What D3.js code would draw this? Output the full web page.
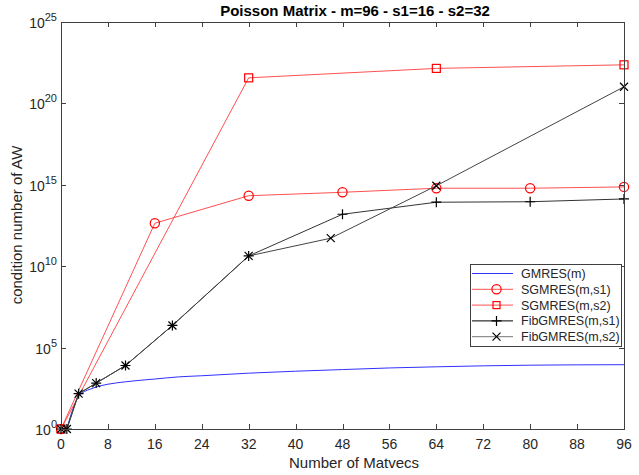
<!DOCTYPE html>
<html>
<head>
<meta charset="utf-8">
<script src="https://cdn.jsdelivr.net/npm/d3@7"></script>
<style>
  body { margin: 0; background: #fff; }
  svg { display: block; font-family: "Liberation Sans", Arial, Helvetica, sans-serif; }
</style>
</head>
<body>
<svg id="chart" width="639" height="475"></svg>
<script>
// ---- data (log10 of condition number) ----
const titleText = "Poisson Matrix - m=96 - s1=16 - s2=32";
const xTicks = [0, 8, 16, 24, 32, 40, 48, 56, 64, 72, 80, 88, 96];
const yTickExps = [0, 5, 10, 15, 20, 25];

const gmresX = [1, 2, 3, 4, 5, 6, 8, 11, 16, 20, 24, 32, 40, 48, 56, 64, 72, 80, 88, 96];
const gmresY = [0, 1.2, 2.0, 2.3, 2.45, 2.58, 2.75, 2.9, 3.07, 3.2, 3.27, 3.43, 3.55, 3.65, 3.75, 3.82, 3.88, 3.92, 3.94, 3.95];

const sg1X = [0, 16, 32, 48, 64, 80, 96];
const sg1Y = [0, 12.64, 14.33, 14.54, 14.79, 14.79, 14.87];

const sg2X = [0, 32, 64, 96];
const sg2Y = [0, 21.57, 22.15, 22.37];

const fib1X = [0, 1, 3, 6, 11, 19, 32, 48, 64, 80, 96];
const fib1Y = [0, 0, 2.17, 2.82, 3.9, 6.36, 10.63, 13.19, 13.93, 13.96, 14.13];

const fib2X = [0, 1, 3, 6, 11, 19, 32, 46, 64, 96];
const fib2Y = [0, 0, 2.17, 2.82, 3.9, 6.36, 10.63, 11.72, 14.94, 21.02];

const seriesNames = ["GMRES(m)", "SGMRES(m,s1)", "SGMRES(m,s2)", "FibGMRES(m,s1)", "FibGMRES(m,s2)"];

// ---- layout ----
const svg = d3.select("#chart");
const pL = 61, pR = 624, pT = 22, pB = 429;
const x = d3.scaleLinear().domain([0, 96]).range([pL, pR]);
const y = d3.scaleLinear().domain([0, 25]).range([pB, pT]);
const axisColor = "#404040";
const textColor = "#262626";

// ticks (inside, all four sides)
const tl = 5;
const g = svg.append("g").attr("stroke", axisColor).attr("stroke-width", 1);
xTicks.forEach(t => {
  const px = Math.round(x(t)) + 0.5;
  g.append("line").attr("x1", px).attr("x2", px).attr("y1", pB).attr("y2", pB - tl);
  g.append("line").attr("x1", px).attr("x2", px).attr("y1", pT).attr("y2", pT + tl);
});
yTickExps.forEach(t => {
  const py = Math.round(y(t)) + 0.5;
  g.append("line").attr("x1", pL).attr("x2", pL + tl).attr("y1", py).attr("y2", py);
  g.append("line").attr("x1", pR).attr("x2", pR - tl).attr("y1", py).attr("y2", py);
});

// tick labels
svg.append("g").selectAll("text").data(xTicks).join("text")
  .attr("x", d => x(d)).attr("y", 448.5)
  .attr("text-anchor", "middle").attr("font-size", 14).attr("fill", textColor)
  .text(d => d);

const yl = svg.append("g").selectAll("text").data(yTickExps).join("text")
  .attr("x", 57).attr("y", d => y(d) + 6)
  .attr("text-anchor", "end").attr("font-size", 14).attr("fill", textColor);
yl.append("tspan").text("10");
yl.append("tspan").attr("dy", -7).attr("font-size", 11).text(d => d);

// line generators
const zip = (a, b) => a.map((v, i) => [v, b[i]]);
const lineLin = d3.line().x(d => x(d[0])).y(d => y(d[1]));
const lineSmooth = d3.line().x(d => x(d[0])).y(d => y(d[1])).curve(d3.curveMonotoneX);

const plot = svg.append("g");
plot.append("path").datum(zip(gmresX, gmresY))
  .attr("d", lineSmooth).attr("fill", "none").attr("stroke", "#3030ff").attr("stroke-width", 1);

const redLine = "#ff5050";
const blackLine = "#333";
plot.append("path").datum(zip(sg1X, sg1Y)).attr("d", lineLin)
  .attr("fill", "none").attr("stroke", redLine).attr("stroke-width", 1);
plot.append("path").datum(zip(sg2X, sg2Y)).attr("d", lineLin)
  .attr("fill", "none").attr("stroke", redLine).attr("stroke-width", 1);
plot.append("path").datum(zip(fib1X, fib1Y)).attr("d", lineLin)
  .attr("fill", "none").attr("stroke", blackLine).attr("stroke-width", 1);
plot.append("path").datum(zip(fib2X, fib2Y)).attr("d", lineLin)
  .attr("fill", "none").attr("stroke", "#444").attr("stroke-width", 1);

// markers
function circle(gg, cx, cy) {
  gg.append("circle").attr("cx", cx).attr("cy", cy).attr("r", 4.6)
    .attr("fill", "none").attr("stroke", "#ff0000").attr("stroke-width", 1.2);
}
function square(gg, cx, cy) {
  gg.append("rect").attr("x", cx - 4).attr("y", cy - 4).attr("width", 8).attr("height", 8)
    .attr("fill", "none").attr("stroke", "#ff0000").attr("stroke-width", 1.2);
}
function plus(gg, cx, cy) {
  const s = 5;
  gg.append("path").attr("d", `M${cx - s},${cy}H${cx + s}M${cx},${cy - s}V${cy + s}`)
    .attr("stroke", "#000").attr("stroke-width", 1.2).attr("fill", "none");
}
function cross(gg, cx, cy) {
  const s = 4;
  gg.append("path").attr("d", `M${cx - s},${cy - s}L${cx + s},${cy + s}M${cx - s},${cy + s}L${cx + s},${cy - s}`)
    .attr("stroke", "#000").attr("stroke-width", 1.2).attr("fill", "none");
}
const mk = svg.append("g");
sg1X.forEach((v, i) => circle(mk, x(v), y(sg1Y[i])));
sg2X.forEach((v, i) => square(mk, x(v), y(sg2Y[i])));
fib1X.forEach((v, i) => plus(mk, x(v), y(fib1Y[i])));
fib2X.forEach((v, i) => cross(mk, x(v), y(fib2Y[i])));

// axes box
svg.append("rect").attr("x", pL + 0.5).attr("y", pT + 0.5).attr("width", pR - pL).attr("height", pB - pT)
  .attr("fill", "none").attr("stroke", axisColor).attr("stroke-width", 1);

// title and labels
svg.append("text").attr("x", 355).attr("y", 16).attr("text-anchor", "middle")
  .attr("font-size", 15).attr("font-weight", "bold").attr("fill", "#000").text(titleText);
svg.append("text").attr("x", 354).attr("y", 468).attr("text-anchor", "middle")
  .attr("font-size", 15).attr("fill", textColor).text("Number of Matvecs");
svg.append("text").attr("transform", `translate(22,225) rotate(-90)`)
  .attr("text-anchor", "middle").attr("font-size", 15).attr("fill", textColor).text("condition number of AW");

// legend
const lg = svg.append("g");
lg.append("rect").attr("x", 470.5).attr("y", 264.5).attr("width", 151).attr("height", 82)
  .attr("fill", "#fff").attr("stroke", axisColor).attr("stroke-width", 1);
const legColors = ["#3030ff", redLine, redLine, "#000", "#777"];
seriesNames.forEach((name, i) => {
  const ly = 273.5 + i * 15.8;
  lg.append("line").attr("x1", 472).attr("x2", 513).attr("y1", ly).attr("y2", ly)
    .attr("stroke", legColors[i]).attr("stroke-width", 1);
  if (i === 1) circle(lg, 496.5, ly);
  if (i === 2) { lg.append("rect").attr("x", 493).attr("y", ly - 3.5).attr("width", 7).attr("height", 7)
    .attr("fill", "none").attr("stroke", "#ff0000").attr("stroke-width", 1.2); }
  if (i === 3) plus(lg, 496.5, ly);
  if (i === 4) cross(lg, 496.5, ly);
  lg.append("text").attr("x", 521).attr("y", ly + 4.5).attr("font-size", 12.5).attr("fill", textColor).text(name);
});
</script>
</body>
</html>
